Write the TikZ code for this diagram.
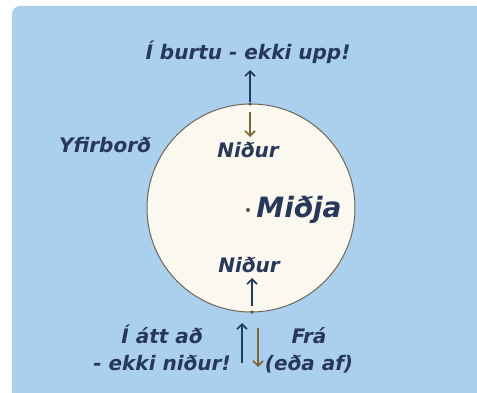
\documentclass[tikz,border=0pt]{standalone}
\usepackage{fontspec}
\setmainfont{DejaVu Sans}
\usepackage{xcolor}
\usetikzlibrary{arrows.meta}
\definecolor{skyblue}{RGB}{170,208,238}
\definecolor{ink}{RGB}{40,56,90}
\definecolor{cream}{RGB}{251,248,239}
\definecolor{rim}{RGB}{110,102,88}
\definecolor{navyarr}{RGB}{32,58,98}
\definecolor{brownarr}{RGB}{128,102,52}

\begin{document}
\begin{tikzpicture}[x=1pt,y=-1pt,
  t/.style={text=ink,font=\fontsize{20}{27}\selectfont\bfseries\itshape,
            inner sep=0pt,align=center,anchor=base},
  up/.style={-{Straight Barb[length=5pt,width=10pt]},line width=1.6pt,draw=navyarr},
  dn/.style={-{Straight Barb[length=5pt,width=10pt]},line width=1.6pt,draw=brownarr},
  pt/.style={circle,fill=rim!80!black,inner sep=0pt,minimum size=3.5pt}
]
\useasboundingbox (0,0) rectangle (477,393);
% panel
\fill[skyblue,rounded corners=8pt] (12,6) rectangle (500,420);
% the ball
\node[circle,draw=rim,line width=1pt,fill=cream,minimum size=208pt,inner sep=0pt] (ball) at (251,208) {};
\node[pt] (top) at (250,104) {};
\node[pt] (bot) at (252,312) {};
\node[pt,minimum size=4pt] (mid) at (248,210) {};
% labels
\node[t] (away) at (248,60) {Í burtu - ekki upp!};
\node[t] (surf) at (105,153) {Yfirborð};
\node[t] (down1) at (248,158) {Niður};
\node[t,font=\fontsize{28}{30}\selectfont\bfseries\itshape] (centre) at (299,218) {Miðja};
\node[t] (down2) at (249,272) {Niður};
\node[t] (toward) at (162,370) {Í átt að\\- ekki niður!};
\node[t] (from) at (309,370) {Frá\\(eða af)};
% arrows
\coordinate (a1) at (250,70);
\coordinate (a2) at (250,112);
\coordinate (a3) at (250,137);
\coordinate (a4) at (252,278);
\coordinate (a5) at (242,323);
\coordinate (a6) at (242,363);
\coordinate (a7) at (258,328);
\coordinate (a8) at (258,367);
\draw[up] (top) -- (a1);
\draw[dn] (a2) -- (a3);
\draw[up] (bot.north) ++(0,-4) -- (a4);
\draw[up] (a6) -- (a5);
\draw[dn] (a7) -- (a8);
\end{tikzpicture}
\end{document}
